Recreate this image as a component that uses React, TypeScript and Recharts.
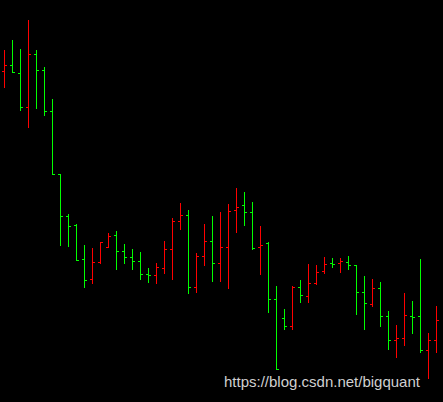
import { Bar, BarChart, XAxis, YAxis } from "recharts";

// OHLC values (price units), one entry per trading day
const openPrices = [
    328.7, 335, 326.7, 292.7, 346, 329.7, 289, 226, 183.7, 175,
    140.7, 121, 137.7, 152.7, 164.7, 148.7, 142.7, 138.7, 125.7, 124.7,
    131.7, 150.7, 178.7, 185, 112.7, 143.7, 158.7, 136.7, 152.7, 189.7,
    195, 187.7, 152.7, 156.7, 101, 82, 74, 112.7, 103.7, 116.7,
    129.3, 136.7, 136.7, 138, 135, 107.7, 95.7, 111.7, 83.7, 60,
    61.7, 83.7, 83.7, 50, 59.7,
];
const highPrices = [
    350, 360, 351, 380, 350, 333, 301, 226, 186.3, 176,
    155, 151.7, 158, 166.7, 169, 156, 151, 148, 132, 137,
    159, 181.7, 196.7, 190, 147, 176.3, 184, 188, 196, 212,
    208, 198, 174, 158, 114, 91, 114, 120, 136, 134.7,
    143, 141.7, 142, 144, 135, 124, 121, 118, 89, 74.7,
    107, 99, 141, 66.7, 93.7,
];
const lowPrices = [
    313.3, 327.7, 290, 273.3, 292.3, 284.7, 225.7, 155.3, 154.3, 140,
    113.3, 117.3, 137.3, 152.7, 130.7, 136.7, 131.3, 121.3, 117.7, 117.3,
    126.7, 121.3, 170.7, 106.7, 108.3, 135.3, 119.3, 119.3, 112.3, 168.3,
    175.3, 150.7, 126, 88.3, 31.3, 70.7, 70.7, 98.5, 98.3, 115.7,
    126.7, 133.3, 128.3, 130.7, 86.3, 71.3, 93.7, 73.7, 51.3, 42.7,
    54.7, 66.7, 47.7, 21.7, 47.7,
];
const closePrices = [
    335, 327.7, 293.3, 346, 329.7, 289, 225.7, 183.7, 173.7, 140,
    120, 137.7, 158, 164.3, 149, 142.7, 138.7, 125.7, 124.7, 133,
    150.7, 178.7, 185, 112.7, 143.7, 158.7, 136.7, 152.7, 189, 193,
    187.7, 152.3, 154.7, 101, 31.3, 74, 112.7, 104.7, 116.7, 128,
    136, 136, 139, 135, 107.7, 97, 111.7, 83.7, 60, 61.7,
    84.7, 82.7, 49.7, 59.7, 79.7,
];

const data = openPrices.map((open, i) => ({
    day: i,
    open,
    high: highPrices[i],
    low: lowPrices[i],
    close: closePrices[i],
    range: [lowPrices[i], highPrices[i]],
}));

const UP = "#ff0000";
const DOWN = "#00ff00";

function OhlcShape(props: any) {
    const { x, y, width, height, payload } = props;
    if (x == null || y == null || !payload) return null;
    const top = Math.min(y, y + height);
    const bottom = Math.max(y, y + height);
    const span = payload.high - payload.low;
    const toY = (v: number) => (span === 0 ? top : top + ((payload.high - v) / span) * (bottom - top));
    const cx = Math.round(x + width / 2);
    const color = payload.close > payload.open ? UP : DOWN;
    const t = Math.round(top);
    const b = Math.round(bottom);
    const oy = Math.round(toY(payload.open));
    const cy = Math.round(toY(payload.close));
    return (
        <g shapeRendering="crispEdges">
            <rect x={cx} y={t} width={1} height={b - t + 1} fill={color} />
            <rect x={cx - 2} y={oy} width={2} height={1} fill={color} />
            <rect x={cx + 1} y={cy} width={2} height={1} fill={color} />
        </g>
    );
}

export default function App() {
    return (
        <div style={{ position: "fixed", left: 0, top: 0, width: 443, height: 402, background: "#000", overflow: "hidden" }}>
            <BarChart width={443} height={402} data={data} margin={{ top: 0, right: 3, left: 0, bottom: 0 }} barCategoryGap={0}>
                <XAxis dataKey="day" hide />
                <YAxis hide domain={[-2, 400]} />
                <Bar dataKey="range" shape={<OhlcShape />} isAnimationActive={false} />
            </BarChart>
            <div
                style={{
                    position: "absolute",
                    left: 224,
                    top: 374,
                    fontFamily: "'Liberation Sans', Arial, sans-serif",
                    fontSize: 15,
                    lineHeight: "15px",
                    color: "#d0d0d0",
                    whiteSpace: "nowrap",
                }}
            >
                https://blog.csdn.net/bigquant
            </div>
        </div>
    );
}
